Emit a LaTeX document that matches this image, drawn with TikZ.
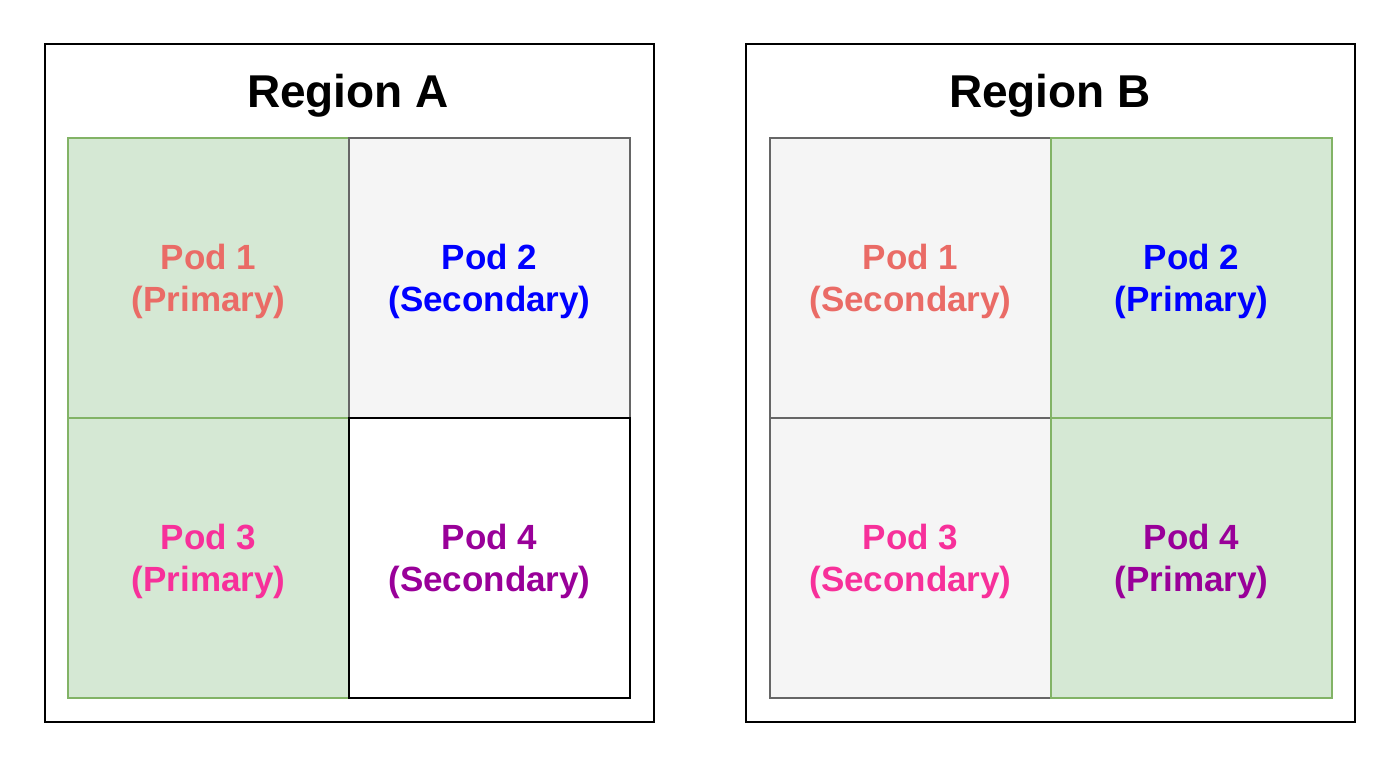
\documentclass[tikz,border=0pt]{standalone}
\usepackage{fontspec}
\setmainfont{Liberation Sans}
\usetikzlibrary{positioning}

\definecolor{cellgreen}{HTML}{D5E8D4}
\definecolor{edgegreen}{HTML}{82B366}
\definecolor{cellgray}{HTML}{F5F5F5}
\definecolor{edgegray}{HTML}{666666}
\definecolor{podone}{HTML}{EA6B66}
\definecolor{podtwo}{HTML}{0000FF}
\definecolor{podthree}{HTML}{F7309A}
\definecolor{podfour}{HTML}{990099}

\begin{document}
\begin{tikzpicture}[x=1pt, y=-1pt,
    region/.style={draw=black, line width=1.6pt, minimum width=609pt, minimum height=678pt, inner sep=0pt},
    regiontitle/.style={font=\fontsize{46}{52}\selectfont\bfseries},
    cell/.style={minimum width=281pt, minimum height=280pt, inner sep=0pt, line width=1.6pt},
    primary/.style={cell, draw=edgegreen, fill=cellgreen},
    secondary/.style={cell, draw=edgegray, fill=cellgray},
    plain/.style={cell, draw=black, fill=white},
    podtext/.style={align=center, inner sep=0pt, font=\fontsize{35}{42}\selectfont\bfseries}]
    \useasboundingbox (0,0) rectangle (1400,767);

    % Define regions
    \node[region] (regA) at (349.5,383) {};
    \node[region] (regB) at (1050.5,383) {};
    \node[regiontitle] (titleA) at (348,96) {Region A};
    \node[regiontitle] (titleB) at (1050,96) {Region B};

    % Region A pods
    \node[primary] (a1) at (208.5,278) {};
    \node[primary] (a3) at (208.5,558) {};
    \node[secondary] (a2) at (489.5,278) {};
    \node[plain] (a4) at (489.5,558) {};

    % Region B pods
    \node[secondary] (b1) at (910.5,278) {};
    \node[secondary] (b3) at (910.5,558) {};
    \node[primary] (b2) at (1191.5,278) {};
    \node[primary] (b4) at (1191.5,558) {};

    % Pod labels
    \node[podtext, text=podone] (a1t) at ([yshift=-3pt]a1.center) {Pod 1\\(Primary)};
    \node[podtext, text=podtwo] (a2t) at ([yshift=-3pt]a2.center) {Pod 2\\(Secondary)};
    \node[podtext, text=podthree] (a3t) at ([yshift=-3pt]a3.center) {Pod 3\\(Primary)};
    \node[podtext, text=podfour] (a4t) at ([yshift=-3pt]a4.center) {Pod 4\\(Secondary)};
    \node[podtext, text=podone] (b1t) at ([yshift=-3pt]b1.center) {Pod 1\\(Secondary)};
    \node[podtext, text=podtwo] (b2t) at ([yshift=-3pt]b2.center) {Pod 2\\(Primary)};
    \node[podtext, text=podthree] (b3t) at ([yshift=-3pt]b3.center) {Pod 3\\(Secondary)};
    \node[podtext, text=podfour] (b4t) at ([yshift=-3pt]b4.center) {Pod 4\\(Primary)};
\end{tikzpicture}
\end{document}
